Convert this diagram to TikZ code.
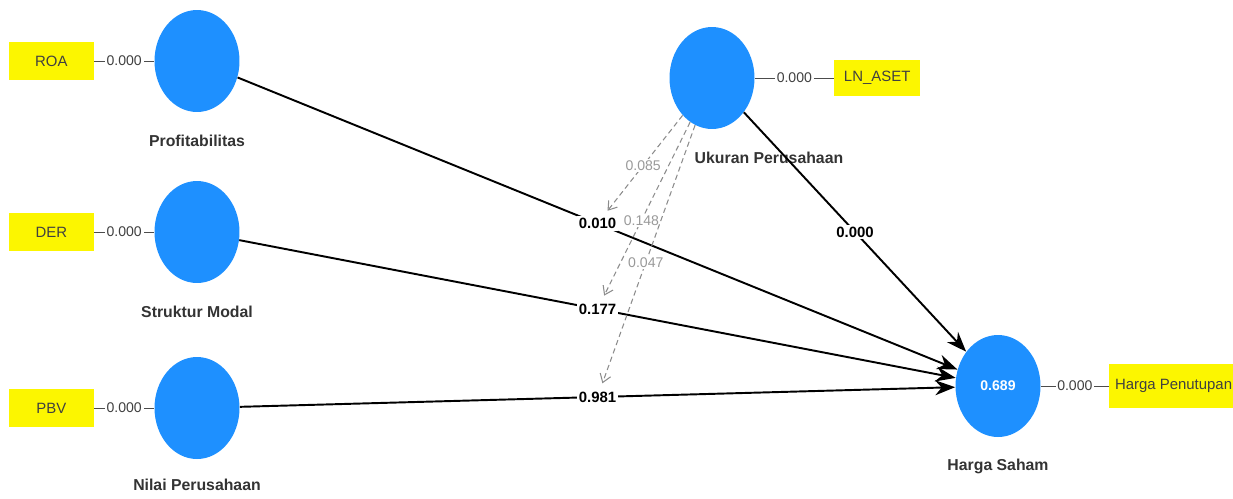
\documentclass[tikz,border=0pt]{standalone}
\usepackage{fontspec}
\setmainfont{Liberation Sans}
\usetikzlibrary{positioning,shapes.geometric,arrows.meta}
\definecolor{lvblue}{RGB}{30,144,255}
\definecolor{mvyellow}{RGB}{252,246,0}
\tikzstyle{latent} = [ellipse, fill=lvblue, minimum width=1.7cm, minimum height=2.04cm, inner sep=0pt]
\tikzstyle{lvname} = [font=\fontsize{9}{10}\selectfont\bfseries, text=black!80]
\tikzstyle{indicator} = [rectangle, fill=mvyellow, minimum width=1.7cm, minimum height=0.76cm, font=\fontsize{8.5}{10}\selectfont, text=black!75]
\tikzstyle{loading} = [draw=black!70, line width=0.5pt]
\tikzstyle{weight} = [fill=white, inner sep=1pt, font=\fontsize{8}{9}\selectfont, text=black!75]
\tikzstyle{arrow} = [line width=1.1pt, -{Stealth[length=4mm, width=3mm]}]
\tikzstyle{pathcoef} = [fill=white, inner sep=1pt, font=\fontsize{8.5}{10}\selectfont\bfseries]
\tikzstyle{moderating} = [draw=black!45, line width=0.6pt, dash pattern=on 3pt off 2pt, -{Straight Barb[length=1.6mm, width=2.2mm]}, shorten >=0.12cm]
\tikzstyle{modcoef} = [fill=white, inner sep=1pt, font=\fontsize{8}{9}\selectfont, text=black!40]

\begin{document}
\begin{tikzpicture}[x=0.02cm, y=-0.02cm]
    \useasboundingbox (0,0) rectangle (1233,498);

    % latent variables
    \node (prof) [latent] at (197,61) {};
    \node (struktur) [latent] at (197,232) {};
    \node (nilai) [latent] at (197,408) {};
    \node (ukuran) [latent] at (712,78) {};
    \node (harga) [latent, text=white, font=\fontsize{8}{9}\selectfont\bfseries] at (998,386) {0.689};

    \node (profname) [lvname, below=0.32cm of prof] {Profitabilitas};
    \node (strukturname) [lvname, below=0.32cm of struktur] {Struktur Modal};
    \node (nilainame) [lvname, below=0.26cm of nilai] {Nilai Perusahaan};
    \node (ukuranname) [lvname, below=0.32cm of ukuran, xshift=1.14cm] {Ukuran Perusahaan};
    \node (harganame) [lvname, below=0.3cm of harga] {Harga Saham};

    % indicators
    \node (roa) [indicator, left=1.2cm of prof] {ROA};
    \draw [loading] (roa) -- node [weight] {0.000} (prof);
    \node (der) [indicator, left=1.2cm of struktur] {DER};
    \draw [loading] (der) -- node [weight] {0.000} (struktur);
    \node (pbv) [indicator, left=1.2cm of nilai] {PBV};
    \draw [loading] (pbv) -- node [weight] {0.000} (nilai);
    \node (lnaset) [indicator, minimum width=1.72cm, minimum height=0.72cm, right=1.58cm of ukuran] {LN\_ASET};
    \draw [loading] (ukuran) -- node [weight] {0.000} (lnaset);
    \node (penutupan) [indicator, minimum width=2.5cm, minimum height=0.88cm, right=1.36cm of harga] {Harga Penutupan};
    \draw [loading] (harga) -- node [weight] {0.000} (penutupan);

    % structural paths
    \draw [arrow] (prof) -- node (p1) [pathcoef] {0.010} (harga);
    \draw [arrow] (struktur) -- node (p2) [pathcoef] {0.177} (harga);
    \draw [arrow] (nilai) -- node (p3) [pathcoef] {0.981} (harga);
    \draw [arrow] (ukuran) -- node (p4) [pathcoef] {0.000} (harga);

    % moderating effects
    \draw [moderating] (ukuran) -- node [modcoef] {0.085} (p1);
    \draw [moderating] (ukuran) -- node [modcoef, pos=0.55] {0.148} (p2);
    \draw [moderating] (ukuran) -- node [modcoef, pos=0.52] {0.047} (p3);

  \end{tikzpicture}
\end{document}
